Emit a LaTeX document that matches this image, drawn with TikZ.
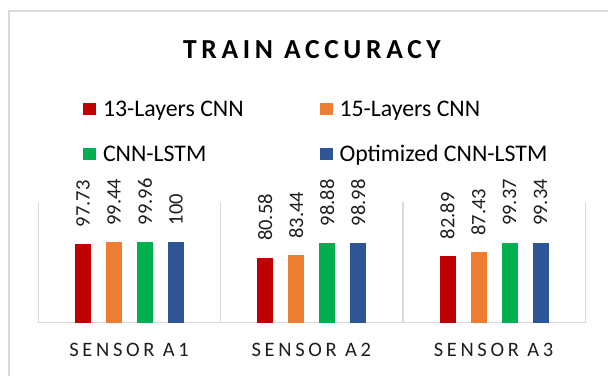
\documentclass[tikz,border=0pt]{standalone}
\usepackage{fontspec}
\setmainfont{Carlito}
\definecolor{c0}{HTML}{C00000}
\definecolor{c1}{HTML}{ED7D31}
\definecolor{c2}{HTML}{00B050}
\definecolor{c3}{HTML}{2F5597}
\definecolor{framegray}{HTML}{D9D9D9}
\definecolor{axisgray}{HTML}{D9D9D9}
\definecolor{txt}{HTML}{1E1E1E}
\tikzset{
  bar/.style={minimum width=16pt, inner sep=0pt, outer sep=0pt, anchor=south, draw=none},
  vallab/.style={font=\fontsize{20.5}{24}\selectfont, text=txt, rotate=90, anchor=west, inner sep=0pt},
  catlab/.style={font=\fontsize{20.5}{24}\selectfont\addfontfeature{LetterSpace=18}, text=txt, anchor=base, inner sep=0pt},
  legsq/.style={minimum width=13pt, minimum height=12.7pt, inner sep=0pt, draw=none},
  legtxt/.style={font=\fontsize{23.8}{28}\selectfont, text=black, anchor=base west, inner sep=0pt},
  titlestyle/.style={font=\fontsize{27.5}{32}\selectfont\bfseries\addfontfeature{LetterSpace=17}, text=black, anchor=base, inner sep=0pt},
  gridline/.style={draw=axisgray, line width=1.2pt}
}
\begin{document}
\begin{tikzpicture}[x=1pt,y=1pt]
\useasboundingbox (0,0) rectangle (608,376);
\fill[white] (0,0) rectangle (608,376);
% chart frame
\draw[framegray, line width=1.2pt] (9,0) -- (9,365) -- (608,365);
% title
\node[titlestyle] (title) at (312,318) {TRAIN ACCURACY};
% legend
\node[legsq, fill=c0] (sq0) at (89.6,267) {};
\node[legtxt] (lg0) at (102.8,259.5) {13-Layers CNN};
\node[legsq, fill=c1] (sq1) at (326.8,267) {};
\node[legtxt] (lg1) at (339.3,259.5) {15-Layers CNN};
\node[legsq, fill=c2] (sq2) at (89.6,222) {};
\node[legtxt] (lg2) at (102.8,214.5) {CNN-LSTM};
\node[legsq, fill=c3] (sq3) at (326.8,222) {};
\node[legtxt] (lg3) at (339.3,214.5) {Optimized CNN-LSTM};
% axis and separators
\coordinate (ax0) at (38.5,53.5);
\coordinate (ax1) at (585.1,53.5);
\foreach \s in {0,1,2,3} {
  \pgfmathsetmacro\sx{38.5+182.2*\s}
  \coordinate (sb\s) at (\sx,53.5);
  \coordinate (st\s) at (\sx,174.3);
  \draw[gridline] (sb\s) -- (st\s);
}
\draw[gridline] (ax0) -- (ax1);
% bars, values, categories
\foreach \k/\a/\b/\c/\d/\nm in {0/97.73/99.44/99.96/100/A1, 1/80.58/83.44/98.88/98.98/A2, 2/82.89/87.43/99.37/99.34/A3} {
  \pgfmathsetmacro\cs{38.5+182.2*\k}
  \node[catlab] (cat\k) at (\cs+91.1-0.5,19.3) {SENSOR \nm};
  \foreach \v [count=\j from 0] in {\a,\b,\c,\d} {
    \pgfmathsetmacro\cx{\cs+91.1-46.5+31*\j}
    \pgfmathsetmacro\h{0.805*\v}
    \node[bar, fill=c\j, minimum height=\h pt] (bar\k\j) at (\cx,53.5) {};
    \node[vallab] (val\k\j) at ([yshift=16.5pt]bar\k\j.north) {\v};
  }
}
\end{tikzpicture}
\end{document}
